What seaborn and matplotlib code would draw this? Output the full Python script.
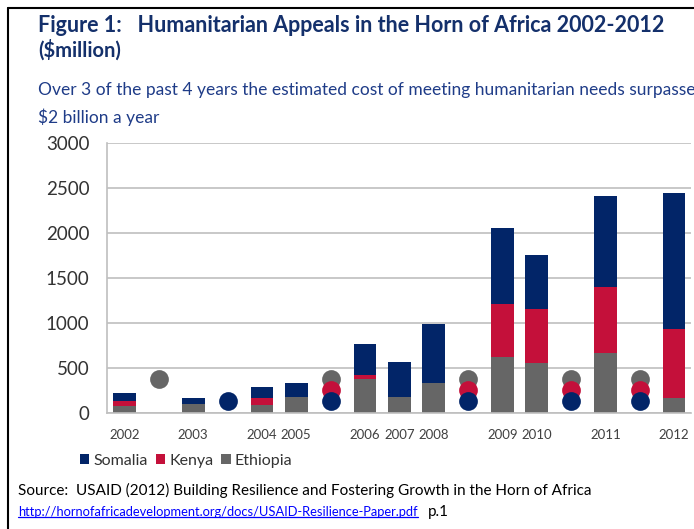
import matplotlib
matplotlib.use("Agg")
import matplotlib.pyplot as plt
import seaborn as sns
import numpy as np
import pandas as pd
from matplotlib.patches import Patch
from matplotlib.lines import Line2D

# ---------------- data ----------------
slots = ["2002", "g1", "2003", "g2", "2004", "2005", "g3", "2006", "2007",
         "2008", "g4", "2009", "2010", "g5", "2011", "g6", "2012"]
tick_labels = ["2002", "", "2003", "", "2004", "2005", "", "2006", "2007",
               "2008", "", "2009", "2010", "", "2011", "", "2012"]
ethiopia = [75, 0, 95, 0, 85, 175, 0, 370, 170, 327, 0, 625, 553, 0, 660, 0, 167]
kenya    = [60, 0, 0, 0, 80, 0, 0, 45, 0, 0, 0, 585, 598, 0, 745, 0, 760]
somalia  = [80, 0, 70, 0, 120, 160, 0, 350, 400, 660, 0, 850, 602, 0, 1003, 0, 1520]

# decorative dots in the gap slots
gray_dot_slots = ["g1", "g3", "g4", "g5", "g6"]
gray_dot_value = 380
red_dot_slots = ["g3", "g4", "g5", "g6"]
red_dot_value = 255
blue_dot_slots = ["g2", "g3", "g4", "g5", "g6"]
blue_dot_value = 125

series_names = ["Somalia", "Kenya", "Ethiopia"]
y_ticks = [0, 500, 1000, 1500, 2000, 2500, 3000]

# ---------------- style ----------------
C_SOM = "#022568"
C_KEN = "#C4103A"
C_ETH = "#666666"
NAVY = "#14306B"

sns.set_theme(style="white")
plt.rcParams['font.family'] = ['Lato', 'DejaVu Sans']

W, H = 694, 529
fig = plt.figure(figsize=(W / 100, H / 100), dpi=100)
ax = fig.add_axes([107.3 / W, 1 - 412.7 / H, 584 / W, 269.4 / H])

df = pd.DataFrame({"slot": slots, "eth": ethiopia, "ken": kenya, "som": somalia})
df["top_ken"] = df["eth"] + df["ken"]
df["top_som"] = df["top_ken"] + df["som"]

common = dict(order=slots, width=0.66, linewidth=0, ax=ax, errorbar=None)
sns.barplot(data=df, x="slot", y="top_som", color=C_SOM, saturation=1, **common)
sns.barplot(data=df, x="slot", y="top_ken", color=C_KEN, saturation=1, **common)
sns.barplot(data=df, x="slot", y="eth", color=C_ETH, saturation=1, **common)

for dslots, val, col in [(gray_dot_slots, gray_dot_value, C_ETH),
                         (red_dot_slots, red_dot_value, C_KEN),
                         (blue_dot_slots, blue_dot_value, C_SOM)]:
    d = pd.DataFrame({"slot": dslots, "v": [val] * len(dslots)})
    sns.stripplot(data=d, x="slot", y="v", order=slots, jitter=False,
                  color=col, size=13.5, linewidth=0, ax=ax, zorder=5)

ax.set_xlim(-0.5, len(slots) - 0.5)
ax.set_ylim(0, 3000)
ax.set_yticks(y_ticks)
ax.set_yticklabels([str(t) for t in y_ticks], fontsize=13.5, color="#333333")
ax.set_xticks(range(len(slots)))
ax.set_xticklabels(tick_labels, fontsize=9.5, color="#404040")
ax.tick_params(axis="y", length=0, pad=13)
ax.tick_params(axis="x", length=0, pad=12)
ax.set_xlabel("")
ax.set_ylabel("")
ax.yaxis.grid(True, color="#BFBFBF", linewidth=1.2)
ax.set_axisbelow(True)
for s in ["top", "right"]:
    ax.spines[s].set_visible(False)
for s in ["left", "bottom"]:
    ax.spines[s].set_color("#BFBFBF")
    ax.spines[s].set_linewidth(1.2)

# ---------------- texts ----------------
def fx(x): return x / W
def fy(y): return 1 - y / H

fig.text(fx(38), fy(25), "Figure 1:   Humanitarian Appeals in the Horn of Africa 2002-2012",
         fontsize=15.5, fontweight="bold", color=NAVY, va="center", ha="left")
fig.text(fx(38), fy(50), "($million)", fontsize=14.5, fontweight="bold",
         color=NAVY, va="center", ha="left")
fig.text(fx(38), fy(90), "Over 3 of the past 4 years the estimated cost of meeting humanitarian needs surpassed",
         fontsize=12.5, color="#1F3C88", va="center", ha="left")
fig.text(fx(38), fy(117), "$2 billion a year", fontsize=12.5, color="#1F3C88",
         va="center", ha="left")

handles = [Patch(facecolor=c, edgecolor="none") for c in [C_SOM, C_KEN, C_ETH]]
fig.legend(handles, series_names, loc="center", bbox_to_anchor=(fx(186), fy(461)),
           ncol=3, frameon=False, fontsize=11.5, handlelength=0.6, handleheight=0.6,
           handletextpad=0.25, columnspacing=0.5, labelcolor="#333333")

fig.text(fx(18), fy(490), "Source:  USAID (2012) Building Resilience and Fostering Growth in the Horn of Africa",
         fontsize=11, color="black", va="center", ha="left")
link = fig.text(fx(18), fy(512), "http://hornofafricadevelopment.org/docs/USAID-Resilience-Paper.pdf",
                fontsize=9.3, color="#0000FF", va="center", ha="left")

fig.canvas.draw()
bb = link.get_window_extent()
fig.add_artist(Line2D([bb.x0 / W, bb.x1 / W], [(bb.y0 + 1) / H, (bb.y0 + 1) / H],
                      transform=fig.transFigure, color="#0000FF", linewidth=0.9))
fig.text((bb.x1 + 10) / W, fy(512), "p.1", fontsize=11, color="black",
         va="center", ha="left")

# frame lines (top and left)
fig.add_artist(Line2D([fx(8), 1.0], [fy(8), fy(8)], transform=fig.transFigure,
                      color="black", linewidth=1.5))
fig.add_artist(Line2D([fx(8), fx(8)], [fy(8), 0.0], transform=fig.transFigure,
                      color="black", linewidth=1.5))

fig.savefig("out.png", dpi=100)
